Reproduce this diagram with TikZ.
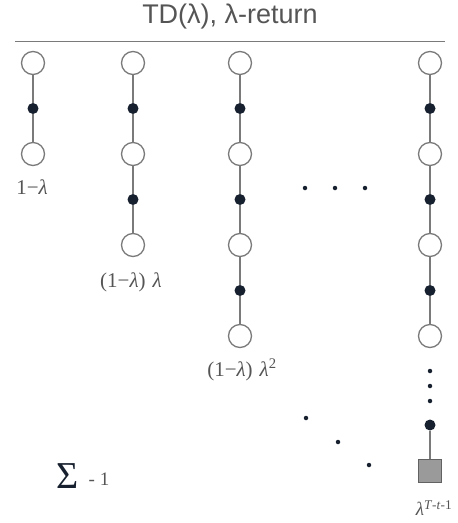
\documentclass[tikz,border=0pt]{standalone}
\usepackage{fontspec}
\setmainfont{Liberation Serif}
\setsansfont{Liberation Sans}
\usepackage{tikz}
\usetikzlibrary{positioning}
\definecolor{tdGray}{HTML}{7A7A7A}
\definecolor{tdText}{HTML}{555555}
\definecolor{tdNavy}{HTML}{17202E}
\definecolor{tdBox}{HTML}{9A9A9A}
\tikzset{
  state/.style={
    circle, draw=tdGray, fill=white, line width=1.3pt,
    minimum size=23pt, inner sep=0pt
  },
  action/.style={
    circle, fill=tdNavy, minimum size=11pt, inner sep=0pt
  },
  tinydot/.style={circle, fill=tdNavy, minimum size=4.5pt, inner sep=0pt},
  terminal/.style={
    rectangle, draw=tdGray!80!black, fill=tdBox, line width=1.3pt,
    minimum size=23pt, inner sep=0pt
  },
  link/.style={draw=tdGray, line width=1.3pt},
  weight/.style={font=\fontsize{21}{24}\selectfont, text=tdText, inner sep=1pt}
}

\begin{document}
\begin{tikzpicture}[x=1pt, y=-1pt]
  \useasboundingbox (0,0) rectangle (458,523);
  % title and rule
  \node[font=\sffamily\fontsize{27}{30}\selectfont, text=tdText] (title) at (230, 17) {TD(λ), λ-return};
  \coordinate (ruleL) at (15, 41);
  \coordinate (ruleR) at (445, 41);
  \draw[tdGray, line width=1pt] (ruleL) -- (ruleR);
  % backups
  \foreach \col/\x/\n in {1/33/1, 2/133/2, 3/240/3, 4/430/3} {
    \node[state] (s\col-0) at (\x, 63) {};
    \foreach \k [evaluate=\k as \j using int(\k-1)] in {1,...,\n} {
      \node[action] (a\col-\k) at (\x, 63+91*\k-45.5) {};
      \node[state] (s\col-\k) at (\x, 63+91*\k) {};
      \draw[link] (s\col-\j) -- (a\col-\k) -- (s\col-\k);
    }
  }
  % last column down to the terminal
  \node[tinydot] (v1) at (430, 371) {};
  \node[tinydot] (v2) at (430, 386) {};
  \node[tinydot] (v3) at (430, 401) {};
  \node[action] (aT) at (430, 425) {};
  \node[terminal] (sT) at (430, 471) {};
  \draw[link] (aT) -- (sT);
  % ellipses
  \node[tinydot] (h1) at (305, 188) {};
  \node[tinydot] (h2) at (335, 188) {};
  \node[tinydot] (h3) at (365, 188) {};
  \node[tinydot] (d1) at (306, 418) {};
  \node[tinydot] (d2) at (338, 442) {};
  \node[tinydot] (d3) at (369, 465) {};
  % weights
  \node[weight] (w1) at (32, 187) {1−\textit{λ}};
  \node[weight] (w2) at (131, 282) {(1−\textit{λ})\,\,\textit{λ}};
  \node[weight] (w3) at (242, 370) {(1−\textit{λ})\,\,\textit{λ}\textsuperscript{2}};
  \node[weight, font=\fontsize{19}{22}\selectfont] (wT) at (434, 508) {\textit{λ}\textsuperscript{\textit{T}-\textit{t}-1}};
  \node[text=tdNavy, font=\fontsize{38}{40}\selectfont, inner sep=0pt] (sum) at (68, 476) {Σ};
  \node[text=tdText, font=\fontsize{19}{22}\selectfont, inner sep=0pt] (one) at (99, 479) {- 1};
\end{tikzpicture}
\end{document}
